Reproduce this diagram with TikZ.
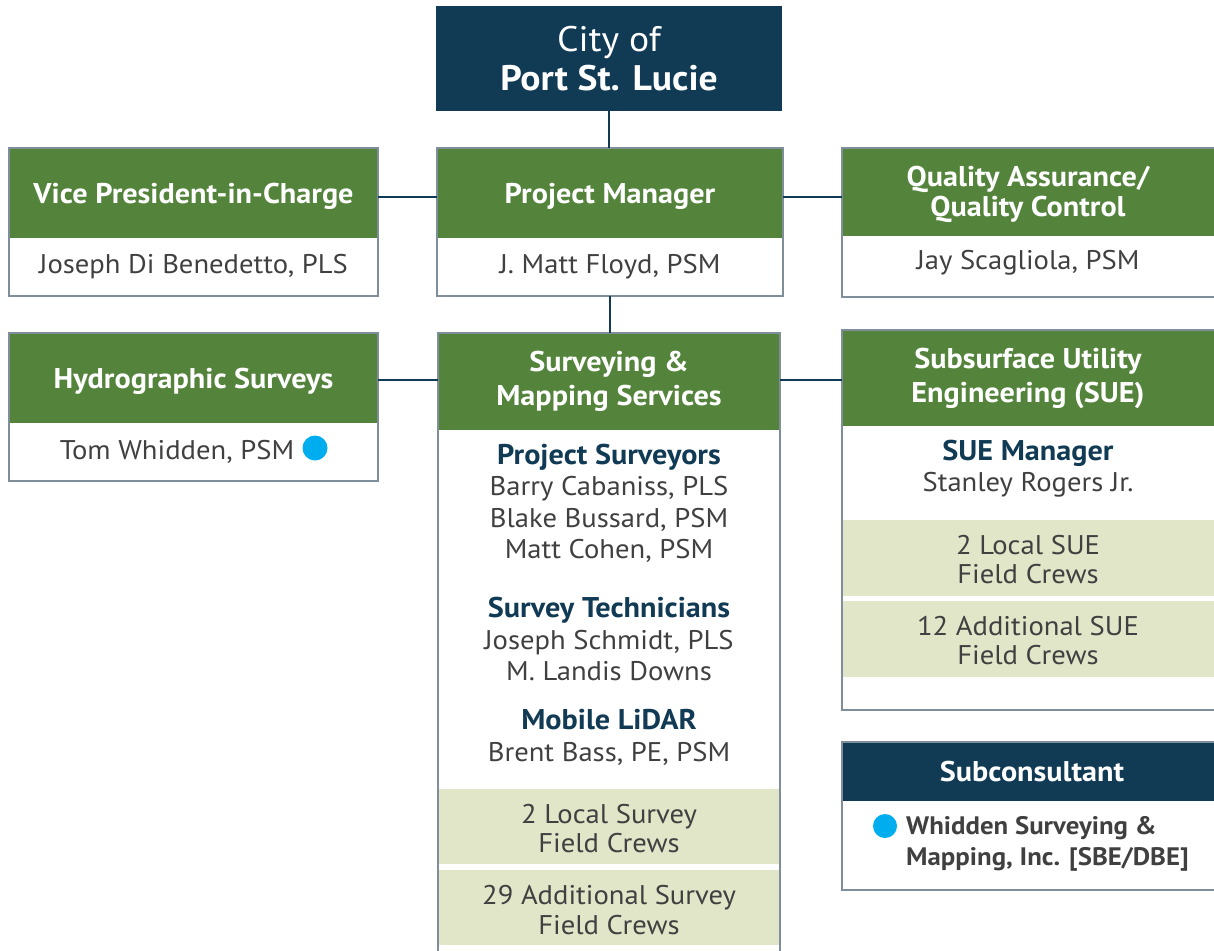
\documentclass[tikz,border=0pt]{standalone}
\usepackage{fontspec}
\setmainfont{PT Sans}[FakeStretch=1.06]
\definecolor{navy}{HTML}{113A55}
\definecolor{hgreen}{HTML}{54843C}
\definecolor{bandc}{HTML}{E1E6C9}
\definecolor{bgray}{HTML}{7E8E9B}
\definecolor{tgray}{HTML}{404040}
\definecolor{dotc}{HTML}{00AEEF}
\newcommand\myhdrfont{\fontsize{28.5}{34}\selectfont\bfseries}
\newcommand\mybodyfont{\fontsize{27}{31.5}\selectfont}
\newcommand\mybold[1]{{\fontsize{28.5}{31.5}\selectfont\bfseries\color{navy}#1}}
\begin{document}
\begin{tikzpicture}[x=1pt,y=-1pt,
  hdrbase/.style={fill=hgreen, text=white, font=\myhdrfont, align=center, inner sep=0pt, outer sep=0pt, anchor=north west},
  hdr/.style={hdrbase, text depth=0pt},
  htxt/.style={text=white, font=\myhdrfont, align=center, inner sep=0pt},
  frame/.style={draw=bgray, line width=2pt, inner sep=0pt, outer sep=0pt, anchor=north west},
  bandbox/.style={fill=bandc, inner sep=0pt, outer sep=0pt, anchor=north west},
  txt/.style={text=tgray, font=\mybodyfont, align=center, inner sep=0pt},
  crew/.style={txt, font=\fontsize{27}{29.5}\selectfont},
  conn/.style={draw=navy, line width=2.4pt},
  bluedot/.style={circle, fill=dotc, inner sep=0pt, minimum size=25pt}
]
\useasboundingbox (0,0) rectangle (1214,950);
\clip (0,0) rectangle (1214,950);
% City
\node[fill=navy, text=white, minimum width=346, minimum height=105, anchor=north west, align=center, inner sep=0pt, outer sep=0pt, font=\fontsize{35.5}{39}\selectfont] (city) at (436,6) {City of\\\textbf{Port St. Lucie}};
% Row 1
\node[hdr, minimum width=369, minimum height=90] (vph) at (9,148) {Vice President-in-Charge};
\node[frame, minimum width=369, minimum height=148] (vpf) at (9,148) {};
\node[txt] (vpn) at (193.5,267) {Joseph Di Benedetto, PLS};
\node[hdr, minimum width=346, minimum height=90] (pmh) at (437,148) {Project Manager};
\node[frame, minimum width=346, minimum height=148] (pmf) at (437,148) {};
\node[txt] (pmn) at (610,267) {J. Matt Floyd, PSM};
\node[hdrbase, minimum width=380, minimum height=88] (qah) at (842,148) {};
\node[htxt, font=\fontsize{28.5}{29.5}\selectfont\bfseries] (qat) at (1028,194.5) {Quality Assurance/\\Quality Control};
\node[frame, minimum width=380, minimum height=149] (qaf) at (842,148) {};
\node[txt] (qan) at (1028,263) {Jay Scagliola, PSM};
% Row 2
\node[hdr, minimum width=369, minimum height=90] (hyh) at (9,333) {Hydrographic Surveys};
\node[frame, minimum width=369, minimum height=148] (hyf) at (9,333) {};
\node[txt] (hyn) at (177,451.5) {Tom Whidden, PSM};
\node[bluedot] (hyd) at (315,448) {};
% Surveying column
\node[hdrbase, minimum width=342, minimum height=97] (smh) at (438,333) {Surveying \&\\Mapping Services};
\node[bandbox, minimum width=342, minimum height=75] (smb1) at (438,789) {};
\node[bandbox, minimum width=342, minimum height=75] (smb2) at (438,870) {};
\node[frame, minimum width=342, minimum height=630] (smf) at (438,333) {};
\node[txt] (smps) at (609,503.5) {\mybold{Project Surveyors}\\Barry Cabaniss, PLS\\Blake Bussard, PSM\\Matt Cohen, PSM};
\node[txt] (smst) at (609,639) {\mybold{Survey Technicians}\\Joseph Schmidt, PLS\\M. Landis Downs};
\node[txt] (smml) at (609,737.5) {\mybold{Mobile LiDAR}\\Brent Bass, PE, PSM};
\node[crew] (smc1) at (609,828.5) {2 Local Survey\\Field Crews};
\node[crew] (smc2) at (609,910) {29 Additional Survey\\Field Crews};
% SUE column
\node[hdrbase, minimum width=380, minimum height=96] (sueh) at (842,330) {};
\node[htxt] (suet) at (1028,378.5) {Subsurface Utility\\Engineering (SUE)};
\node[bandbox, minimum width=380, minimum height=76] (sueb1) at (842,520) {};
\node[bandbox, minimum width=380, minimum height=76] (sueb2) at (842,601) {};
\node[frame, minimum width=380, minimum height=380] (suef) at (842,330) {};
\node[txt] (suem) at (1028,468.5) {\mybold{SUE Manager}\\Stanley Rogers Jr.};
\node[crew] (suec1) at (1028,559.5) {2 Local SUE\\Field Crews};
\node[crew] (suec2) at (1028,640.5) {12 Additional SUE\\Field Crews};
% Subconsultant
\node[hdrbase, fill=navy, minimum width=380, minimum height=59, text width=372] (subh) at (842,742) {Subconsultant};
\node[frame, minimum width=380, minimum height=148] (subf) at (842,742) {};
\node[bluedot, minimum size=24pt] (subd) at (885,826) {};
\node[txt, align=left, anchor=west, font=\fontsize{25.3}{31}\selectfont\bfseries] (subn) at (906,843.5) {Whidden Surveying \&\\Mapping, Inc. [SBE/DBE]};
% Connectors
\draw[conn] (city.south) -- (city.south |- pmh.north);
\draw[conn] ([yshift=-4pt]vph.east) -- ([yshift=-4pt]pmh.west);
\draw[conn] ([yshift=-4pt]pmh.east) -- ([yshift=-4pt]pmh.east -| qah.west);
\draw[conn] (pmf.south) -- (pmf.south |- smh.north);
\draw[conn] ([yshift=-2pt]hyh.east) -- ([yshift=-2pt]hyh.east -| smh.west);
\draw[conn] ([yshift=1.5pt]smh.east) -- ([yshift=1.5pt]smh.east -| sueh.west);
\end{tikzpicture}
\end{document}
